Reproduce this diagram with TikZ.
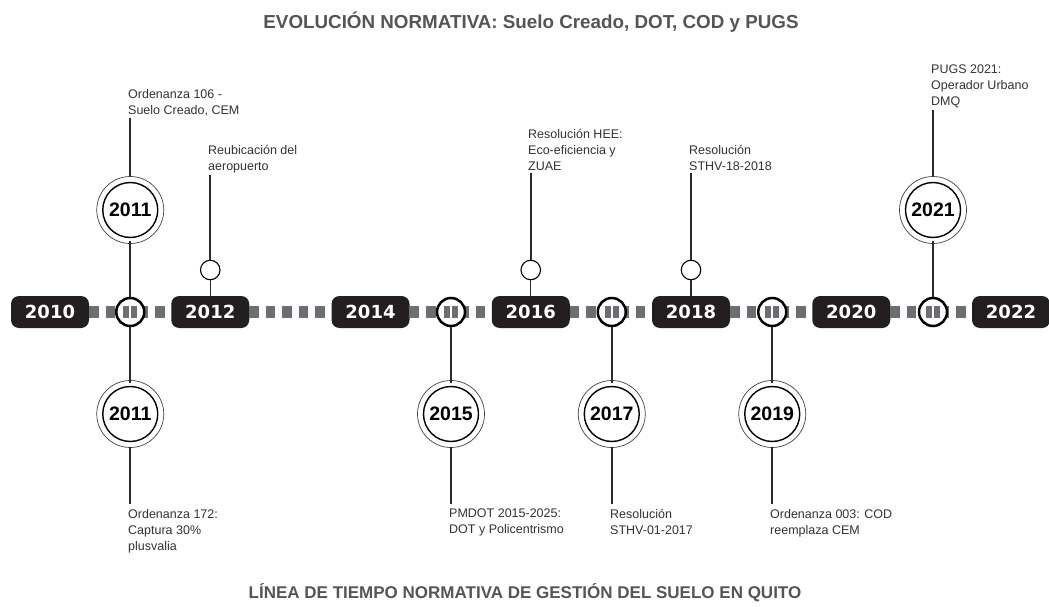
\documentclass[tikz,border=0pt]{standalone}
\usepackage{fontspec}
\setmainfont{Liberation Sans}
\newfontfamily\yearfont{DejaVu Sans}
\definecolor{boxblack}{HTML}{231F20}
\definecolor{dashgray}{HTML}{6D6E71}
\definecolor{linedark}{HTML}{2A2A2A}
\definecolor{textdark}{HTML}{333333}
\definecolor{titlegray}{HTML}{555555}
\tikzset{
  yearbox/.style={fill=boxblack, rounded corners=8pt, minimum width=78pt, minimum height=32pt,
    text=white, font=\yearfont\bfseries\fontsize{18}{18}\selectfont, inner sep=0pt},
  marker/.style={circle, draw=black, line width=2.5pt, fill=white, minimum size=28pt, inner sep=0pt,
    path picture={
      \fill[dashgray] ([xshift=-7pt,yshift=-6pt]path picture bounding box.center) rectangle ([xshift=7pt,yshift=6pt]path picture bounding box.center);
      \draw[white,line width=1.6pt] ([yshift=-6pt]path picture bounding box.center) -- ([yshift=6pt]path picture bounding box.center);
    }},
  smallring/.style={circle, draw=black, line width=1.1pt, fill=white, minimum size=19.5pt, inner sep=0pt},
  bigyear/.style={circle, draw=black, line width=1.4pt, fill=white, minimum size=55pt, inner sep=0pt,
    font=\bfseries\fontsize{19.5}{19.5}\selectfont, text=black},
  outerring/.style={draw=black!75, line width=0.7pt},
  conn/.style={draw=linedark, line width=2pt},
  lbl/.style={anchor=north west, inner sep=0pt, align=left, text=textdark,
    font=\fontsize{12.5}{16}\selectfont},
  titletext/.style={text=titlegray, font=\bfseries\selectfont, inner sep=0pt}
}
\begin{document}
\begin{tikzpicture}[x=1pt,y=-1pt]
\useasboundingbox[fill=white] (0,0) rectangle (1049,607);

% titles
\node[titletext, font=\bfseries\fontsize{18.8}{18.8}\selectfont] (title) at (531,22) {EVOLUCIÓN NORMATIVA: Suelo Creado, DOT, COD y PUGS};
\node[titletext, font=\bfseries\fontsize{17}{17}\selectfont] (subtitle) at (525,593) {LÍNEA DE TIEMPO NORMATIVA DE GESTIÓN DEL SUELO EN QUITO};

% year boxes
\node[yearbox] (y2010) at (50,312) {2010};
\node[yearbox] (y2012) at (210.25,312) {2012};
\node[yearbox] (y2014) at (370.5,312) {2014};
\node[yearbox] (y2016) at (530.75,312) {2016};
\node[yearbox] (y2018) at (691,312) {2018};
\node[yearbox] (y2020) at (851.25,312) {2020};
\node[yearbox] (y2022) at (1011,312) {2022};

% dashed timeline between boxes
\draw[dashgray, line width=12pt, dash pattern=on 9.5pt off 7pt] (y2010.east) -- (y2012.west);
\draw[dashgray, line width=12pt, dash pattern=on 9.5pt off 7pt] (y2012.east) -- (y2014.west);
\draw[dashgray, line width=12pt, dash pattern=on 9.5pt off 7pt] (y2014.east) -- (y2016.west);
\draw[dashgray, line width=12pt, dash pattern=on 9.5pt off 7pt] (y2016.east) -- (y2018.west);
\draw[dashgray, line width=12pt, dash pattern=on 9.5pt off 7pt] (y2018.east) -- (y2020.west);
\draw[dashgray, line width=12pt, dash pattern=on 9.5pt off 7pt] (y2020.east) -- (y2022.west);

% big circles
\node[bigyear] (c2011a) at (130.25,210) {2011};
\node[bigyear] (c2021) at (933,210) {2021};
\node[bigyear] (c2011b) at (130.25,414) {2011};
\node[bigyear] (c2015) at (451,414) {2015};
\node[bigyear] (c2017) at (611.75,414) {2017};
\node[bigyear] (c2019) at (772.25,414) {2019};
\foreach \c in {c2011a,c2021,c2011b,c2015,c2017,c2019}{
  \draw[outerring] (\c.center) circle (33.5);
}

% small rings
\node[smallring] (s2012) at (210.25,270) {};
\node[smallring] (s2016) at (530.75,270) {};
\node[smallring] (s2018) at (691,270) {};

% labels
\node[lbl] (t2011a) at (128,89) {Ordenanza 106 -\\Suelo Creado, CEM};
\node[lbl] (t2012) at (208,145) {Reubicación del\\aeropuerto};
\node[lbl] (t2016) at (528,129) {Resolución HEE:\\Eco-eficiencia y\\ZUAE};
\node[lbl] (t2018) at (689,145) {Resolución\\STHV-18-2018};
\node[lbl] (t2021) at (931,65) {PUGS 2021:\\Operador Urbano\\DMQ};
\node[lbl] (t2011b) at (128,509) {Ordenanza 172:\\Captura 30\%\\plusvalia};
\node[lbl] (t2015) at (449,509) {PMDOT 2015-2025:\\DOT y Policentrismo};
\node[lbl] (t2017) at (610,509) {Resolución\\STHV-01-2017};
\node[lbl] (t2019) at (770,509) {Ordenanza 003: COD\\reemplaza CEM};

% connectors: labels to circles
\draw[conn, shorten <=2pt, shorten >=6pt] (c2011a.north |- t2011a.south) -- (c2011a.north);
\draw[conn, shorten <=2pt, shorten >=6pt] (c2021.north |- t2021.south) -- (c2021.north);
\draw[conn, shorten <=2pt] (s2012.north |- t2012.south) -- (s2012.north);
\draw[conn, shorten <=2pt] (s2016.north |- t2016.south) -- (s2016.north);
\draw[conn, shorten <=2pt] (s2018.north |- t2018.south) -- (s2018.north);
\draw[conn, shorten <=5pt, shorten >=5pt] (c2011b.south) -- (c2011b.south |- t2011b.north);
\draw[conn, shorten <=5pt, shorten >=5pt] (c2015.south) -- (c2015.south |- t2015.north);
\draw[conn, shorten <=5pt, shorten >=5pt] (c2017.south) -- (c2017.south |- t2017.north);
\draw[conn, shorten <=5pt, shorten >=5pt] (c2019.south) -- (c2019.south |- t2019.north);

% small rings to boxes
\draw[conn, line width=1.3pt] (s2012.south) -- (y2012.north);
\draw[conn, line width=1.3pt] (s2016.south) -- (y2016.north);
\draw[conn, line width=1.3pt] (s2018.south) -- (y2018.north);

% markers on the timeline
\node[marker] (m2011) at (130.25,312) {};
\node[marker] (m2015) at (451,312) {};
\node[marker] (m2017) at (611.75,312) {};
\node[marker] (m2019) at (772.25,312) {};
\node[marker] (m2021) at (933,312) {};

% markers to circles
\draw[conn, shorten >=3pt] (m2011.north) -- (c2011a.south);
\draw[conn, shorten >=3pt] (m2021.north) -- (c2021.south);
\draw[conn, shorten >=3pt] (m2011.south) -- (c2011b.north);
\draw[conn, shorten >=3pt] (m2015.south) -- (c2015.north);
\draw[conn, shorten >=3pt] (m2017.south) -- (c2017.north);
\draw[conn, shorten >=3pt] (m2019.south) -- (c2019.north);
\end{tikzpicture}
\end{document}
